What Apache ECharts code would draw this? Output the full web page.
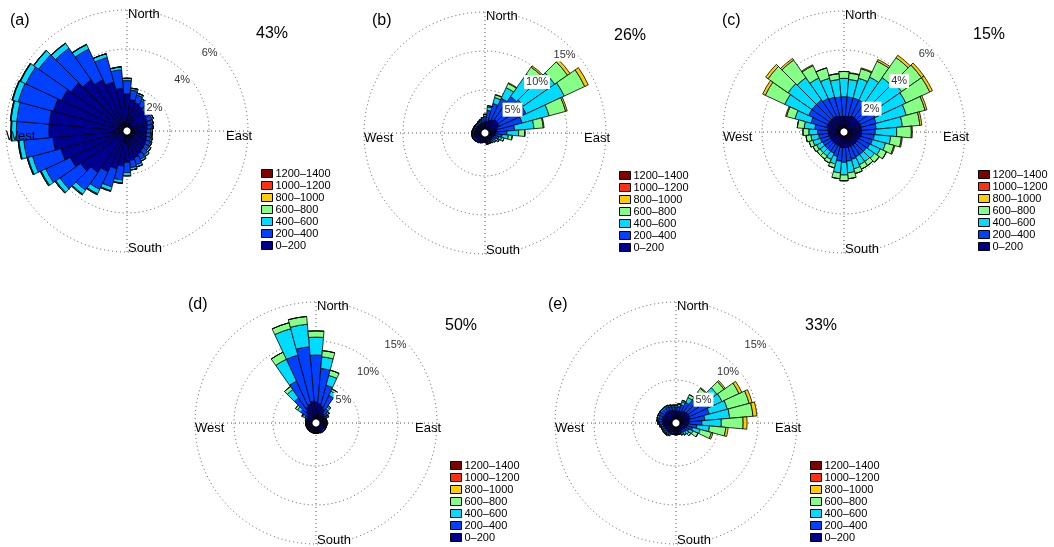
<!DOCTYPE html>
<html><head><meta charset="utf-8">
<script src="https://cdn.jsdelivr.net/npm/echarts@6/dist/echarts.min.js"></script>
<style>html,body{margin:0;padding:0;background:#fff}#c{width:1054px;height:547px}</style>
</head><body><div id="c"></div>
<script>
// ---------- data ----------
const directions = [0,10,20,30,40,50,60,70,80,90,100,110,120,130,140,150,160,170,180,190,200,210,220,230,240,250,260,270,280,290,300,310,320,330,340,350];
const speedClasses = ['0–200','200–400','400–600','600–800','800–1000','1000–1200','1200–1400'];
const panelTags = ['(a)','(b)','(c)','(d)','(e)'];
const calmShares = ['43%','26%','15%','50%','33%'];
const ringMax = [6,15,6,15,15];
const ringStep = [2,5,2,5,5];
const compassNames = ['North','East','South','West'];

// panel (a)
const a0_200   = [1.7,1.4,1.3,1.2,1.1,1.0,0.95,0.9,0.85,0.8,0.8,0.85,0.9,0.95,1.0,1.1,1.2,1.3,1.4,1.6,1.8,2.1,2.4,2.7,3.0,3.3,3.6,3.8,3.8,3.7,3.5,3.3,3.0,2.7,2.4,2.0];
const a200_400 = [0.68,0.5,0.4,0.32,0.32,0.32,0.27,0.22,0.22,0.22,0.22,0.22,0.22,0.25,0.3,0.3,0.38,0.38,0.53,0.72,0.96,1.0,1.1,1.3,1.4,1.51,1.51,1.67,1.67,1.87,2.02,2.03,1.98,1.73,1.3,0.95];
const a400_600 = [0.12,0.1,0.1,0.08,0.08,0.08,0.08,0.08,0.08,0.08,0.08,0.08,0.08,0.1,0.1,0.1,0.12,0.12,0.15,0.15,0.2,0.25,0.25,0.25,0.25,0.25,0.25,0.25,0.3,0.3,0.3,0.3,0.3,0.25,0.2,0.15];
const a600_800 = [0,0,0,0,0,0,0,0,0,0,0,0,0,0,0,0,0,0,0.02,0.03,0.04,0.05,0.05,0.05,0.05,0.04,0.04,0.03,0.03,0.03,0.03,0.02,0.02,0.02,0,0];
const a800_1000 = [0,0,0,0,0,0,0,0,0,0,0,0,0,0,0,0,0,0,0,0,0,0,0,0,0,0,0,0,0,0,0,0,0,0,0,0];

// panel (b)
const b0_200   = [0.9,1.0,1.2,1.4,1.6,1.6,1.5,1.2,1.0,0.9,0.8,0.7,0.6,0.6,0.6,0.6,0.6,0.6,0.55,0.55,0.6,0.7,0.75,0.8,0.85,0.9,0.9,0.9,0.85,0.8,0.8,0.8,0.8,0.8,0.85,0.85];
const b200_400 = [0.7,1.4,2.2,3.0,3.6,3.9,3.8,3.2,2.3,1.4,0.9,0.6,0.4,0.3,0.25,0.2,0.2,0.2,0.1,0.1,0.15,0.15,0.2,0.25,0.25,0.25,0.25,0.25,0.25,0.25,0.25,0.25,0.25,0.3,0.35,0.5];
const b400_600 = [0.25,0.45,0.8,1.5,3.5,4.9,5.4,3.6,2.5,1.5,0.8,0.4,0.3,0.2,0.15,0.1,0.1,0.1,0.05,0.05,0.05,0.05,0.05,0.05,0.05,0.05,0.05,0.05,0.05,0.05,0.05,0.05,0.05,0.1,0.1,0.15];
const b600_800 = [0.05,0.15,0.35,0.6,1.1,2.0,2.9,2.2,1.2,0.8,0.5,0.3,0.2,0.1,0.05,0.05,0.05,0.05,0,0,0,0,0,0,0,0,0,0,0,0,0,0,0,0,0,0];
const b800_1000 = [0,0,0.05,0.1,0.2,0.4,0.5,0.2,0.1,0,0,0,0,0,0,0,0,0,0,0,0,0,0,0,0,0,0,0,0,0,0,0,0,0,0,0];

// panel (c)
const c0_200   = [0.6,0.6,0.65,0.7,0.7,0.7,0.7,0.7,0.7,0.7,0.7,0.65,0.6,0.6,0.6,0.6,0.6,0.6,0.6,0.6,0.55,0.55,0.55,0.55,0.55,0.55,0.6,0.6,0.65,0.7,0.7,0.7,0.7,0.7,0.65,0.6];
const c200_400 = [1.0,1.0,0.95,0.9,0.9,0.9,0.85,0.8,0.75,0.7,0.65,0.65,0.65,0.6,0.6,0.6,0.65,0.7,0.75,0.7,0.55,0.45,0.45,0.45,0.45,0.5,0.5,0.55,0.65,0.85,1.1,1.1,1.1,1.0,1.0,1.0];
const c400_600 = [0.95,0.9,1.05,1.3,1.6,1.8,1.75,1.6,1.35,1.1,0.85,0.7,0.6,0.5,0.45,0.45,0.5,0.6,0.65,0.6,0.4,0.35,0.3,0.3,0.35,0.4,0.4,0.45,0.55,0.85,1.35,1.5,1.4,1.15,1.0,0.9];
const c600_800 = [0.35,0.32,0.5,0.9,1.25,1.25,1.35,1.0,0.9,0.75,0.55,0.45,0.35,0.3,0.25,0.25,0.25,0.3,0.3,0.3,0.2,0.2,0.2,0.2,0.2,0.2,0.25,0.3,0.35,0.45,1.1,1.25,1.1,0.7,0.55,0.3];
const c800_1000 = [0,0.03,0.05,0.1,0.15,0.15,0.15,0.1,0.1,0.05,0.05,0.05,0,0,0,0,0,0,0,0,0,0,0,0,0,0,0,0,0,0.05,0.15,0.15,0.1,0.05,0,0];

// panel (d)
const d0_200   = [2.2,2.0,1.7,1.5,1.0,0.9,0.8,0.7,0.7,0.7,0.7,0.7,0.7,0.7,0.7,0.7,0.7,0.7,0.7,0.7,0.7,0.7,0.7,0.7,0.7,0.7,0.7,0.7,0.6,0.6,0.7,1.0,1.4,1.8,2.0,2.3];
const d200_400 = [6.0,4.5,2.8,1.9,0.7,0.4,0.3,0.15,0.15,0.15,0.15,0.15,0.15,0.15,0.15,0.15,0.1,0.1,0.1,0.1,0.1,0.1,0.1,0.1,0.1,0.1,0.1,0.1,0.15,0.2,0.4,0.9,2.0,3.6,6.5,7.0];
const d400_600 = [2.3,1.5,1.3,0.6,0.3,0.2,0.15,0.05,0.05,0.05,0.05,0.05,0.05,0.05,0.05,0.05,0,0,0,0,0,0,0,0,0,0,0,0,0.05,0.1,0.3,0.5,1.3,3.1,3.5,2.9];
const d600_800 = [0.8,0.8,0.7,0.3,0.2,0.1,0.05,0,0,0,0,0,0,0,0,0,0,0,0,0,0,0,0,0,0,0,0,0,0,0,0.1,0.3,0.5,1.0,0.8,1.0];
const d800_1000 = [0,0,0,0,0,0,0,0,0,0,0,0,0,0,0,0,0,0,0,0,0,0,0,0,0,0,0,0,0,0,0,0,0,0,0,0];

// panel (e)
const e0_200   = [1.0,1.0,1.1,1.2,1.3,1.4,1.4,1.3,1.2,1.1,1.0,0.9,0.8,0.7,0.7,0.7,0.7,0.7,0.7,0.7,0.7,0.9,1.0,1.0,1.0,1.0,1.1,1.2,1.3,1.3,1.3,1.3,1.3,1.3,1.2,1.1];
const e200_400 = [0.5,0.6,0.8,1.2,1.8,2.4,2.7,2.6,2.0,1.7,1.2,0.8,0.5,0.4,0.3,0.25,0.2,0.2,0.2,0.2,0.2,0.25,0.3,0.3,0.3,0.3,0.35,0.4,0.45,0.5,0.5,0.5,0.5,0.5,0.5,0.5];
const e400_600 = [0.2,0.3,0.4,0.7,1.2,2.1,1.9,2.4,3.2,2.5,1.6,1.0,0.6,0.4,0.3,0.2,0.1,0.1,0.1,0.1,0.1,0.15,0.15,0.15,0.15,0.15,0.15,0.2,0.2,0.2,0.2,0.2,0.2,0.2,0.2,0.2];
const e600_800 = [0.1,0.1,0.2,0.4,0.6,1.1,2.4,2.9,3.0,2.8,2.1,1.5,0.7,0.3,0.1,0.05,0,0,0,0,0,0,0,0,0,0,0,0,0,0,0,0,0,0,0,0];
const e800_1000 = [0,0,0,0,0.1,0.2,0.4,0.4,0.5,0.5,0.3,0.2,0,0,0,0,0,0,0,0,0,0,0,0,0,0,0,0,0,0,0,0,0,0,0,0];

const noData = [];

const panelData = [
  [a0_200, a200_400, a400_600, a600_800, a800_1000, noData, noData],
  [b0_200, b200_400, b400_600, b600_800, b800_1000, noData, noData],
  [c0_200, c200_400, c400_600, c600_800, c800_1000, noData, noData],
  [d0_200, d200_400, d400_600, d600_800, d800_1000, noData, noData],
  [e0_200, e200_400, e400_600, e600_800, e800_1000, noData, noData]
];

// ---------- styles / layout ----------
const classColors = ['#000090','#0040ff','#00dcff','#86ff86','#ffcc00','#ff3010','#800000'];
const FONT = '"Liberation Sans", Arial, Helvetica, sans-serif';
const layout = [
  {cx:127, cy:131, tx:10,  ty:21},
  {cx:485, cy:133, tx:372, ty:21},
  {cx:844, cy:132, tx:722, ty:21},
  {cx:316, cy:423, tx:188, ty:305},
  {cx:676, cy:423, tx:548, ty:305}
];
const R = 121, R0 = 4;
const dotted = {color:'#555', width:1, type:[1,3]};

const polar = [], angleAxis = [], radiusAxis = [], series = [], legend = [], graphic = [];

layout.forEach((L, k) => {
  const center = [L.cx, L.cy];
  const radius = [R0, R];
  // grid polar
  polar.push({center, radius});
  angleAxis.push({polarIndex:3*k, type:'value', min:0, max:360, interval:90, startAngle:90,
    axisLine:{show:false}, axisTick:{show:false}, axisLabel:{show:false},
    splitLine:{show:true, lineStyle:dotted}});
  radiusAxis.push({polarIndex:3*k, type:'value', min:0, max:ringMax[k], interval:ringStep[k],
    axisLine:{show:false}, axisTick:{show:false}, axisLabel:{show:false},
    splitLine:{show:true, lineStyle:dotted}});
  // bar polar
  polar.push({center, radius});
  angleAxis.push({polarIndex:3*k+1, type:'category', data:directions, startAngle:95, boundaryGap:true,
    axisLine:{show:false}, axisTick:{show:false}, axisLabel:{show:false}, splitLine:{show:false}});
  radiusAxis.push({polarIndex:3*k+1, type:'value', min:0, max:ringMax[k],
    axisLine:{show:false}, axisTick:{show:false}, axisLabel:{show:false}, splitLine:{show:false}});
  // ring-label polar
  polar.push({center, radius});
  angleAxis.push({polarIndex:3*k+2, type:'value', min:0, max:360, startAngle:45,
    axisLine:{show:false}, axisTick:{show:false}, axisLabel:{show:false}, splitLine:{show:false}});
  radiusAxis.push({polarIndex:3*k+2, type:'value', min:0, max:ringMax[k], interval:ringStep[k], z:20,
    axisLine:{show:false}, axisTick:{show:false}, splitLine:{show:false},
    axisLabel:{show:true, showMinLabel:false, margin:-10, formatter: v => v + '%',
      fontSize:11, fontFamily:FONT, color:'#333', backgroundColor:'#fff', padding:[2,2,1,2]}});

  speedClasses.forEach((name, i) => {
    series.push({
      type:'bar', coordinateSystem:'polar', polarIndex:3*k+1, stack:'rose'+k, name,
      data: panelData[k][i], barCategoryGap:'0%',
      itemStyle:{color:classColors[i], borderColor:'#000', borderWidth:0.8},
      emphasis:{disabled:true}, silent:true
    });
  });

  legend.push({orient:'vertical', left:L.cx+134, top:L.cy+37, padding:0,
    data: speedClasses.slice().reverse(), icon:'rect', itemWidth:11, itemHeight:8, itemGap:1,
    selectedMode:false,
    textStyle:{fontSize:11, fontFamily:FONT, color:'#000', padding:[0,0,0,-2]},
    itemStyle:{borderColor:'#000', borderWidth:1}});

  const txt = (x, y, text, size) => ({type:'text', x, y, z:30,
    style:{text, fill:'#000', fontSize:size, fontFamily:FONT, align:'left', verticalAlign:'middle'}});
  graphic.push(txt(L.tx, L.ty, panelTags[k], 16));
  graphic.push(txt(L.cx+129, L.cy-97, calmShares[k], 16));
  graphic.push(txt(L.cx+1, L.cy-117, compassNames[0], 13));
  graphic.push(txt(L.cx+99, L.cy+5, compassNames[1], 13));
  graphic.push(txt(L.cx+1, L.cy+117, compassNames[2], 13));
  graphic.push(txt(L.cx-121, L.cy+5, compassNames[3], 13));
});

const chart = echarts.init(document.getElementById('c'), null, {renderer:'canvas'});
chart.setOption({
  animation:false, backgroundColor:'#fff',
  polar, angleAxis, radiusAxis, series, legend, graphic
});
</script></body></html>
